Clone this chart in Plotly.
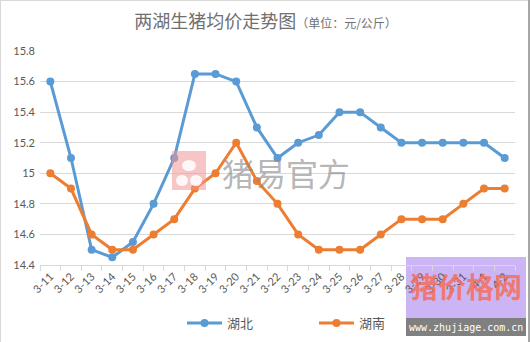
import plotly.graph_objects as go

dates = ["3-11", "3-12", "3-13", "3-14", "3-15", "3-16", "3-17", "3-18", "3-19", "3-20",
         "3-21", "3-22", "3-23", "3-24", "3-25", "3-26", "3-27", "3-28", "3-29", "3-30",
         "3-31", "4-1", "4-2"]
hubei = [15.6, 15.1, 14.5, 14.45, 14.55, 14.8, 15.1, 15.65, 15.65, 15.6,
         15.3, 15.1, 15.2, 15.25, 15.4, 15.4, 15.3, 15.2, 15.2, 15.2,
         15.2, 15.2, 15.1]
hunan = [15.0, 14.9, 14.6, 14.5, 14.5, 14.6, 14.7, 14.9, 15.0, 15.2,
         14.95, 14.8, 14.6, 14.5, 14.5, 14.5, 14.6, 14.7, 14.7, 14.7,
         14.8, 14.9, 14.9]

CJK = "Noto Sans CJK SC"
NUM = "Lato, " + CJK
GREY = "#595959"

# plot-area geometry in pixels (for placing overlay decorations)
W, H = 531, 342
L, R, T, B = 40, 16, 51, 77
PW, PH = W - L - R, H - T - B


def px(x):
    return (x - L) / PW


def py(y):
    return (H - B - y) / PH


fig = go.Figure()
fig.add_trace(go.Scatter(
    x=dates, y=hubei, name="湖北", mode="lines+markers",
    line=dict(color="#5B9BD5", width=3),
    marker=dict(color="#5B9BD5", size=8),
))
fig.add_trace(go.Scatter(
    x=dates, y=hunan, name="湖南", mode="lines+markers",
    line=dict(color="#ED7D31", width=3),
    marker=dict(color="#ED7D31", size=8),
))

shapes = [
    # chart frame
    dict(type="line", xref="paper", yref="paper", x0=px(0.5), x1=px(0.5), y0=py(H), y1=py(0),
         line=dict(color="#D9D9D9", width=1)),
    dict(type="line", xref="paper", yref="paper", x0=px(0), x1=px(529), y0=py(0.5), y1=py(0.5),
         line=dict(color="#D9D9D9", width=1)),
    dict(type="line", xref="paper", yref="paper", x0=px(529), x1=px(529), y0=py(H), y1=py(0),
         line=dict(color="#A6A6A6", width=2)),
    # logo badge beside 猪易官方
    dict(type="rect", xref="paper", yref="paper", x0=px(172), x1=px(206), y0=py(190), y1=py(151),
         fillcolor="rgba(240,150,150,0.55)", line=dict(width=0), layer="above"),
    dict(type="circle", xref="paper", yref="paper", x0=px(182), x1=px(196), y0=py(171), y1=py(160),
         fillcolor="rgba(255,255,255,0.85)", line=dict(width=0), layer="above"),
    dict(type="circle", xref="paper", yref="paper", x0=px(176), x1=px(188), y0=py(186), y1=py(175),
         fillcolor="rgba(255,255,255,0.85)", line=dict(width=0), layer="above"),
    dict(type="circle", xref="paper", yref="paper", x0=px(190), x1=px(202), y0=py(186), y1=py(175),
         fillcolor="rgba(255,255,255,0.85)", line=dict(width=0), layer="above"),
    # watermark box, lower right (under the tick labels)
    dict(type="rect", xref="paper", yref="paper", x0=px(406), x1=px(526), y0=py(318), y1=py(257),
         fillcolor="rgba(160,120,235,0.55)", line=dict(width=0), layer="below"),
    dict(type="rect", xref="paper", yref="paper", x0=px(406), x1=px(526), y0=py(336), y1=py(318),
         fillcolor="#808080", line=dict(width=0), layer="above"),
]

annotations = [
    dict(text="猪易官方", xref="paper", yref="paper", x=px(286), y=py(172),
         xanchor="center", yanchor="middle",
         showarrow=False, font=dict(family=CJK, size=32, color="rgba(140,140,140,0.65)")),
    dict(text="<b>猪价格网</b>", xref="paper", yref="paper", x=px(466), y=py(286),
         xanchor="center", yanchor="middle",
         showarrow=False, font=dict(family=CJK, size=28, color="rgba(245,110,90,0.85)")),
    dict(text="www.zhujiage.com.cn", xref="paper", yref="paper", x=px(466), y=py(327),
         xanchor="center", yanchor="middle",
         showarrow=False, font=dict(family="DejaVu Sans Mono", size=10, color="white")),
]

fig.update_layout(
    width=W, height=H,
    margin=dict(l=L, r=R, t=T, b=B, autoexpand=False),
    paper_bgcolor="white", plot_bgcolor="rgba(0,0,0,0)",
    title=dict(
        text="两湖生猪均价走势图<span style='font-size:12px'>（单位：元/公斤）</span>",
        x=0.5, xanchor="center", y=1 - 22 / H, yanchor="middle",
        font=dict(family=CJK, size=18, color="#707070"),
    ),
    showlegend=True,
    legend=dict(
        orientation="h", x=px(182), xanchor="left", y=py(323), yanchor="middle",
        font=dict(family=CJK, size=13, color=GREY),
        bgcolor="rgba(0,0,0,0)",
        itemwidth=35, tracegroupgap=0,
        entrywidth=82, entrywidthmode="pixels",
    ),
    xaxis=dict(
        type="category", showgrid=False, automargin=False,
        showline=True, linecolor="#D9D9D9", linewidth=1,
        ticks="outside", tickson="boundaries", ticklen=5, tickcolor="#D9D9D9",
        tickangle=-45, tickfont=dict(family=NUM, size=11, color=GREY),
        range=[-0.5, len(dates) - 0.5],
    ),
    yaxis=dict(
        range=[14.4, 15.8], dtick=0.2, tick0=14.4, automargin=False,
        showgrid=True, gridcolor="#D9D9D9", gridwidth=1,
        zeroline=False, showline=False,
        tickfont=dict(family=NUM, size=11, color=GREY),
        ticks="", ticklabelstandoff=4,
    ),
    shapes=shapes,
    annotations=annotations,
)

fig.write_html("out.html")
